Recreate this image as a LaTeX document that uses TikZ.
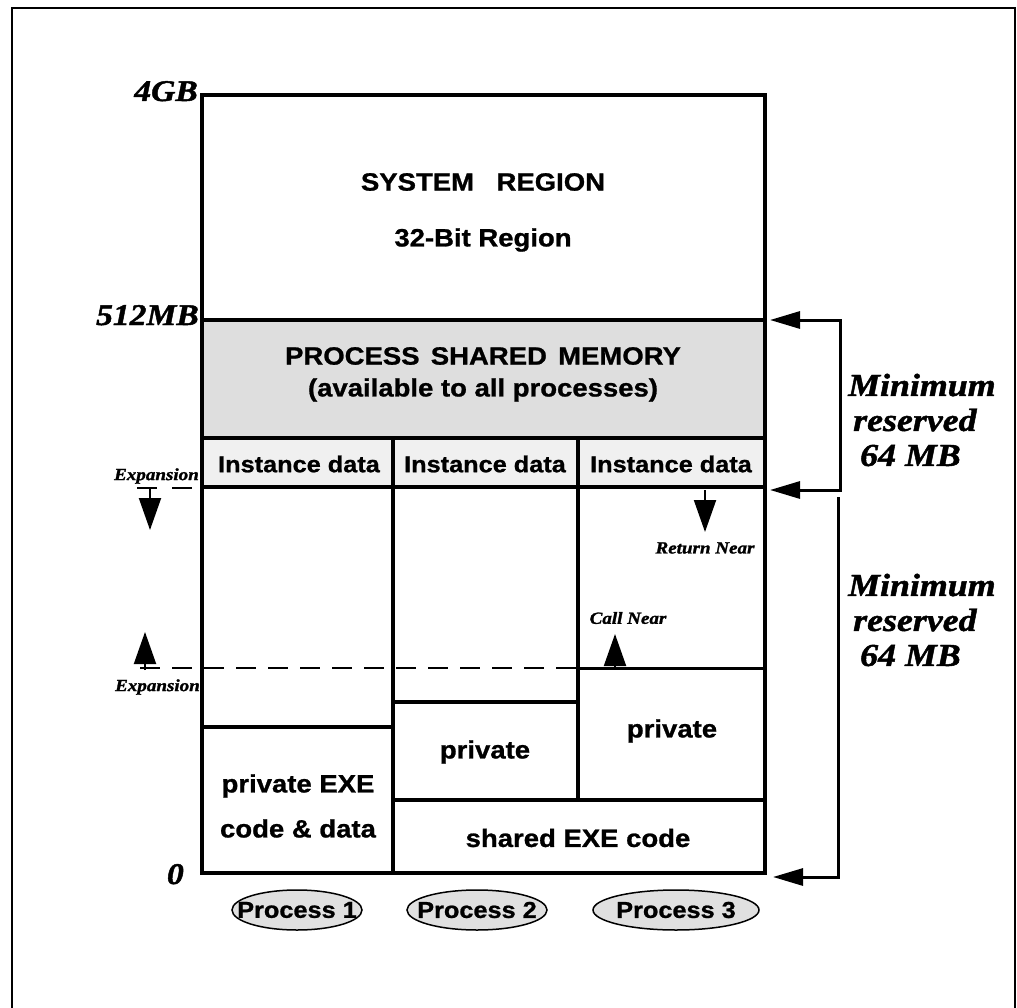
\documentclass[tikz,border=0pt]{standalone}
\usepackage{fontspec}
\setmainfont{Liberation Serif}
\newfontfamily\hv[FakeStretch=1.1,FakeBold=1]{Liberation Sans}
\newfontfamily\tb[FakeStretch=1.12,FakeBold=1.5]{Liberation Serif}
\usetikzlibrary{arrows.meta,shapes.geometric}
\begin{document}
\begin{tikzpicture}[x=1pt,y=-1pt,
  box/.style={line width=4pt},
  lab/.style={font=\hv\bfseries\fontsize{25}{32}\selectfont, align=center, inner sep=0pt},
  inst/.style={font=\hv\bfseries\fontsize{23}{28}\selectfont, inner sep=0pt},
  addr/.style={font=\tb\bfseries\itshape\fontsize{30}{34}\selectfont, inner sep=0pt},
  minlab/.style={font=\tb\bfseries\itshape\fontsize{32}{35}\selectfont, align=left, inner sep=0pt},
  smalllab/.style={font=\tb\bfseries\itshape\fontsize{17}{19}\selectfont, inner sep=0pt},
  bigarrow/.style={-{Triangle[length=32pt,width=22pt]}, line width=2pt},
  bracket/.style={line width=3pt},
  bothtips/.style={{Triangle[length=30pt,width=17pt]}-{Triangle[length=30pt,width=17pt]}},
  endtip/.style={-{Triangle[length=30pt,width=17pt]}},
  proc/.style={ellipse, draw, line width=1.5pt, fill=black!12, minimum height=40pt,
    inner xsep=-14pt, inner ysep=0pt,
    font=\hv\bfseries\fontsize{23}{26}\selectfont}
]
\useasboundingbox (0,0) rectangle (1017,1008);
% outer frame
\draw[line width=2pt] (12,1008) -- (12,8) -- (1015,8) -- (1015,1008);

% shaded regions
\fill[black!13] (202,320) rectangle (765,438);
\fill[black!6] (202,438) rectangle (765,487);

% dashed expansion line
\draw[line width=2pt, dash pattern=on 20pt off 12pt] (140,668) -- (578,668);
\draw[line width=2pt, dash pattern=on 20pt off 15pt] (137,488) -- (200,488);

% memory map outline and partitions
\draw[box] (202,95) rectangle (765,873);
\draw[box] (202,320) -- (765,320);
\draw[box] (202,438) -- (765,438);
\draw[box] (202,487) -- (765,487);
\draw[box] (393,438) -- (393,873);
\draw[box] (578,438) -- (578,800);
\draw[box] (202,727) -- (393,727);
\draw[box] (393,702) -- (578,702);
\draw[line width=3pt] (578,668) -- (765,668);
\draw[box] (393,800) -- (765,800);

% region texts
\node[lab] (sys) at (483,182) {SYSTEM\hspace{0.9em}REGION};
\node[lab] (bit) at (483,240) {32-Bit Region};
\node[lab] (psm) at (483,356) {PROCESS\hspace{0.45em}SHARED\hspace{0.45em}MEMORY};
\node[lab] (avail) at (483,390) {(available to all processes)};
\node[inst] (i1) at (299,464) {Instance data};
\node[inst] (i2) at (485,464) {Instance data};
\node[inst] (i3) at (671,464) {Instance data};
\node[lab, font=\hv\bfseries\fontsize{25}{45}\selectfont] (pexe) at (298,806) {private EXE\\code \& data};
\node[lab] (priv2) at (485,752) {private};
\node[lab] (priv3) at (672,731) {private};
\node[lab] (sexe) at (578,838) {shared EXE code};

% address labels
\node[addr, anchor=base east] (a4g) at (198,101) {4GB};
\node[addr, anchor=base east] (a512) at (199,325) {512MB};
\node[addr, anchor=base east] (a0) at (184,884) {0};

% expansion arrows and labels
\node[smalllab, anchor=east] (exp1) at (199,476) {Expansion};
\node[smalllab, anchor=east] (exp2) at (200,687) {Expansion};
\coordinate (e1s) at (150,488);
\coordinate (e1e) at (150,530);
\coordinate (e2s) at (145,670);
\coordinate (e2e) at (145,632);
\draw[bigarrow] (e1s) -- (e1e);
\draw[bigarrow] (e2s) -- (e2e);

% near call / return
\node[smalllab] (ret) at (705,548) {Return Near};
\node[smalllab] (call) at (628,618) {Call Near};
\coordinate (r1) at (705,490);
\coordinate (r2) at (705,532);
\coordinate (c1) at (615,668);
\coordinate (c2) at (615,634);
\draw[bigarrow] (r1) -- (r2);
\draw[bigarrow] (c1) -- (c2);

% right brackets
\coordinate (b1a) at (770,320);
\coordinate (b1b) at (770,490);
\coordinate (b2a) at (838,497);
\coordinate (b2b) at (773,877);
\draw[bracket, bothtips] (b1a) -- (840,320) -- (840,490) -- (b1b);
\draw[bracket, endtip] (b2a) -- (838,877) -- (b2b);
\node[minlab, anchor=west] (m1) at (848,420) {Minimum\\\hspace{5pt}reserved\\\hspace{12pt}64 MB};
\node[minlab, anchor=west] (m2) at (848,620) {Minimum\\\hspace{5pt}reserved\\\hspace{12pt}64 MB};

% processes
\node[proc, minimum width=130pt] (p1) at (297,910) {Process 1};
\node[proc, minimum width=140pt] (p2) at (477,910) {Process 2};
\node[proc, minimum width=166pt] (p3) at (676,910) {Process 3};
\end{tikzpicture}
\end{document}
